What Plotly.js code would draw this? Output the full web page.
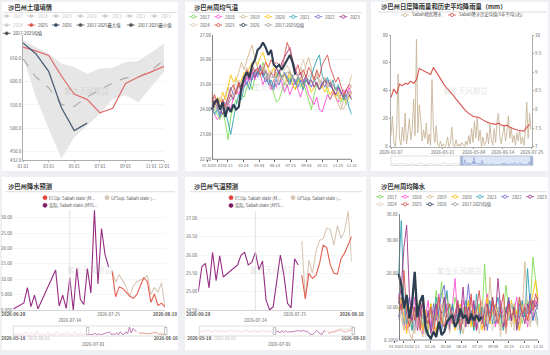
<!DOCTYPE html>
<html>
<head>
<meta charset="utf-8">
<script src="https://cdn.plot.ly/plotly-3.0.1.min.js"></script>
<style>
html, body { margin: 0; padding: 0; background: #eef0f4; }
#chart { width: 550px; height: 355px; }
</style>
</head>
<body>
<div id="chart"></div>
<script>
// ---------------- Soil moisture (monthly) ----------------
const soilMonths = ['01 01','02 01','03 01','04 01','05 01','06 01','07 01','08 01','09 01','10 01','11 01','12 01'];
const soilMax  = [689, 674, 660, 639, 631, 617, 628, 630, 642, 644, 663, 681];
const soilMin  = [654, 567, 499, 436, 481, 506, 531, 563, 571, 556, 588, 621];
const soilMean = [649, 610, 587, 551, 547, 567, 583, 597, 608, 610, 624, 646];
const soil2025 = [674, 666, 656, 612, 573, 562, 533, 543, 596, 610, 621, 633];
const soil2026 = [683, 660, 622, 544, 495, 511];
const soilTickText = ['01 01','03 01','05 01','07 01','09 01','11 01','12 01'];
const soilTickIdx  = [0, 2, 4, 6, 8, 10, 11];
const soilYTicks   = [432, 450, 500, 550, 600, 650];

// ---------------- Weekly mean temperature (°C) ----------------
const tempW2017 = [24.3,24.0,23.8,23.6,23.9,23.5,22.8,23.7,24.1,24.4,24.2,24.6,24.5,24.9,25.1,24.8,25.3,25.6,25.4,25.9,25.5,25.2,25.0,24.6,24.3,24.4,24.8,25.1,24.9,25.3,25.0,24.8,25.2,24.9,25.1,24.7,24.3,24.0,24.6,25.0,24.8,24.9,25.2,24.7,24.4,24.6,24.9,24.5,24.3,24.5,24.2,24.6,24.4];
const tempW2018 = [24.2,23.8,23.6,23.7,24.1,23.9,24.3,24.0,24.5,24.8,24.6,25.0,24.9,25.3,25.1,25.5,25.2,25.6,25.4,25.0,25.3,25.1,24.8,25.2,24.9,25.4,25.1,24.7,25.0,24.6,24.9,25.2,24.8,24.5,24.9,25.0,24.6,24.4,24.2,24.5,24.0,23.9,24.3,24.6,24.4,24.7,24.5,24.3,24.6,24.8,24.5,24.9,24.6];
const tempW2019 = [24.6,24.3,24.0,24.4,24.2,24.6,24.9,24.5,24.8,25.2,25.5,25.9,25.6,26.0,26.3,26.6,26.0,25.7,25.3,25.6,25.2,25.5,24.9,25.2,25.5,25.1,25.4,25.0,25.3,25.6,25.2,25.0,25.4,25.7,25.3,25.8,26.1,25.6,25.2,25.5,25.1,24.9,25.3,25.0,25.2,24.8,24.5,24.2,24.0,24.4,24.8,25.0,25.4];
const tempW2020 = [24.4,24.1,24.5,24.3,24.7,24.4,24.9,25.4,25.1,25.3,24.9,25.2,25.5,25.4,25.7,25.9,26.0,25.8,26.1,26.3,25.9,25.6,25.4,25.7,25.3,25.6,25.2,25.4,25.1,25.5,25.0,24.8,25.1,25.3,24.9,25.2,25.0,24.7,24.9,25.1,24.8,25.0,24.7,24.9,24.6,24.8,24.5,24.7,24.4,24.6,24.3,24.5,24.7];
const tempW2021 = [24.1,23.8,24.0,23.7,24.2,23.9,23.5,23.0,23.6,24.2,24.6,24.4,24.9,25.1,24.8,25.3,25.6,25.4,25.7,25.3,25.5,25.0,25.2,24.9,25.3,25.6,25.2,25.5,25.3,25.1,25.4,25.0,25.3,25.1,24.8,25.2,25.0,25.4,25.7,26.0,26.2,25.4,25.1,25.3,24.9,25.2,24.8,25.0,24.7,24.4,24.6,24.1,23.8];
const tempW2022 = [24.0,24.3,24.1,23.8,24.4,24.2,24.5,24.9,24.6,24.8,25.1,24.9,25.3,25.0,25.4,25.2,25.5,25.3,25.6,25.4,25.1,25.3,25.0,24.8,25.2,25.0,25.3,25.5,25.2,25.0,25.3,25.1,24.9,25.2,25.0,25.3,25.1,24.9,25.2,25.0,24.8,25.1,24.9,25.2,25.0,24.8,24.6,24.9,24.7,24.5,24.4,24.6,24.5];
const tempW2023 = [24.5,24.2,24.4,24.0,23.8,24.1,24.3,24.6,24.4,24.8,25.0,24.7,25.1,25.4,25.2,25.6,25.3,25.5,25.8,25.4,25.6,25.2,25.5,25.3,25.7,25.4,25.9,26.1,26.3,26.5,26.0,25.6,25.3,25.5,25.1,25.4,25.0,25.2,24.9,25.1,24.8,25.0,25.2,24.9,25.1,24.8,24.6,24.9,24.7,24.5,24.8,24.6,24.4];
const tempW2024 = [24.7,24.4,24.2,24.5,24.3,24.0,24.4,24.7,24.5,24.9,25.2,25.0,25.4,25.7,25.3,25.6,26.0,25.7,25.4,25.8,25.5,25.2,25.6,25.3,25.0,25.4,25.2,25.6,25.8,25.5,25.2,25.5,25.3,25.7,26.0,25.6,25.3,25.5,25.1,25.4,25.0,25.3,25.1,24.9,25.2,25.0,24.8,24.6,24.2,24.0,24.3,24.7,25.0];
const tempW2025 = [24.3,24.6,24.2,24.0,24.4,24.1,24.5,24.8,25.0,24.6,25.1,24.8,25.3,25.6,25.4,25.8,25.5,25.7,25.4,25.6,25.9,25.7,26.0,25.8,25.9,25.8,25.6,26.2,26.7,26.4,25.9,25.5,25.8,25.4,25.6,25.3,25.7,25.5,25.2,25.6,25.3,25.8,26.0,26.2,25.7,25.4,25.1,25.3,24.9,24.6,24.8,25.0,24.9];
const tempW2026 = [24.0,24.3,24.4,24.0,24.3,23.7,24.1,23.9,24.2,24.0,24.1,24.9,25.3,25.5,25.3,25.8,26.0,26.4,26.5,26.7,26.5,26.2,26.4,25.8,25.7,25.8,25.6,25.8,26.0,26.2,25.9,25.4];
const tempWMean = [24.3,24.1,24.0,23.9,24.1,24.0,24.2,24.4,24.5,24.7,24.9,25.0,25.2,25.4,25.5,25.6,25.6,25.6,25.6,25.6,25.5,25.4,25.3,25.3,25.3,25.4,25.3,25.4,25.5,25.5,25.3,25.2,25.2,25.3,25.2,25.3,25.2,25.1,25.1,25.3,25.2,25.1,25.2,25.1,25.0,25.0,24.8,24.8,24.6,24.6,24.6,24.7,24.7];

// ---------------- Weekly mean rainfall (mm) ----------------
const rainW2017 = [12,9,5,14,7,3,10,6,12,4,8,2,11,6,15,9,17.6,8,5,11,7,13,9,4,10,6,12,8,3,9,11,6,23,9,5,12,7,10,4,8,16.6,9,6,11,8,13,5,9,12,10,25,18,11];
const rainW2018 = [14,8,11,3,9,6,13,5,10,2,7,12,4,9,6,14,3,8,11,5,10,18.6,7,4,12,9,6,13,8,3,10,5,9,14,6,11,4,8,12,7,3,10,6,9,13,5,8,11,4,9,7,12,10];
const rainW2019 = [10,6,3,8,2,0.5,5,9,4,1,7,3,11,6,2,9,5,12,7,3,8,4,10,6,2,7,11,5,9,3,8,12,6,4,19,8,5,10,3,7,2,9,4,11,6,3,8,23.6,9,5,12,6,4];
const rainW2020 = [9,13,7,2,10,5,8,12,6,3,9,4,11,7,2,8,5,10,14,6,9,3,7,11,5,8,12,4,9,6,10,3,7,13,5,9,11,6,8,4,10,7,12,5,9,3,11,8,6,10,13,18,12];
const rainW2021 = [20,36,12,5,9,3,7,11,4,8,2,6,10,4,13,7,3,9,15,6,11,4,8,2,7,12,5,9,3,14,6,10,4,8,12,5,9,13,7,3,10,6,11,8,4,9,12,7,21.6,10,6,9,5];
const rainW2022 = [7,11,4,9,13,6,3,10,7,12,5,8,3,11,6,9,14,16.6,7,4,10,6,12,8,5,9,17,7,11,4,8,6,10,3,9,12,5,7,10,4,8,13,6,9,5,11,7,10,8,14,6,9,11];
const rainW2023 = [11,16,28,34.6,14,6,10,3,8,12,5,9,2,7,11,4,8,13,6,3,9,5,11,7,16,4,10,6,12,3,8,5,9,11,6,13,7,18.6,9,4,8,12,6,10,3,7,9,5,11,8,12,10,13];
const rainW2024 = [6,10,3,8,5,12,2,7,4,9,1,6,10,3,8,5,11,4,7,2,9,6,3,10,5,8,4,12,6,9,2,7,11,5,8,3,10,6,1,9,4,7,11,3,8,5,9,12,6,4,10,8,4];
const rainW2025 = [13,9,21,8,4,11,6,9,3,12,7,5,10,2,8,13,6,4,9,11,5,8,12,3,7,10,6,14,4,9,15,7,3,10,6,12,8,5,9,14,4,11,7,9,5,13,8,10,6,12,9,14,11];
const rainW2026 = [20,16.6,9.6,13.6,6.6,11,20.6,7,11.6,13.6,4,1.6,0.6,2.6,1,5.6,1.6,2.6,5.6,6.6,7.6,4,5.6,9.6,6.6,7.6,5,8,6,7.5,6,7];
const rainWMean = [11,13,11,10,9,7,8,8,7,7,6,7,7,7,8,7,8,9,8,6,8,8,8,6,8,8,8,9,7,7,8,7,9,8,8,9,7,9,8,7,8,9,8,8,7,8,8,10,9,9,11,11,9];

const weekTickDays = [-12, 14, 41, 82, 123, 164, 205, 246, 287, 328, 364];
const weekTickText = ['01 01','01 01','02 11','03 24','05 04','06 14','07 25','09 04','10 15','11 25','12 31'];

// ---------------- Daily rainfall 2026 and 5-year mean ----------------
const rainDailyStart = '2026-01-07';   // one value every 2 days
const rainDaily = [8,22,3,0,12,52,6,1,14,4, 24,2,10,20,5,12,34,8,77,10, 30,20,4,12,6,17,2,9,1,48,
  12,3,15,1,0,4,0,2,0,1, 7,0,3,14,1,0,5,0,2,0, 3,1,0,4,1,8,2,13,3,18,
  6,21,4,12,0,7,1,3,10,2, 16,5,1,13,3,18,24,7,2,9, 15,4,11,22,6,14,3,8,1,10,
  4,12,2,7,1,11,32,6,24,12];
const rainAvgStart = '2026-01-07';     // one value every 4 days
const rainAvg5y = [8.32,8.55,8.42,8.68,8.64,8.70,8.68,8.76,8.70,8.80,9.10,9.06,9.02,8.98,8.94,9.13,9.00,8.88,8.76,8.64,
  8.55,8.47,8.38,8.28,8.18,8.08,8.00,7.92,7.86,7.82,7.80,7.79,7.74,7.69,7.66,7.63,7.62,7.60,7.63,7.58,
  7.56,7.58,7.52,7.48,7.46,7.44,7.43,7.42,7.52,7.60];
const rainEarlyStart = '2025-06-23';   // weekly, before the viewed window
const rainEarly = [6,14,3,9,20,5,11,2,16,8,4,12,25,7,3,10,18,6,13,4,9,22,15,5,11,8,19,7,12];
const rainDailyTicks = ['2026-01-07','2026-03-21','2026-05-04','2026-06-14','2026-07-25'];

// ---------------- Forecasts ----------------
const fcRainActDates = ['2026-06-28','2026-06-29','2026-06-30','2026-07-01','2026-07-02','2026-07-03','2026-07-04','2026-07-05',
  '2026-07-10','2026-07-11','2026-07-12','2026-07-13','2026-07-14','2026-07-15','2026-07-16','2026-07-17',
  '2026-07-18','2026-07-19','2026-07-20','2026-07-21','2026-07-22','2026-07-23','2026-07-24','2026-07-25'];
const fcRainAct = [0.3,1.0,1.6,2.3,7.3,1.1,4.8,0.4,13.0,1.3,4.8,0.5,10.5,0.0,13.5,3.5,1.8,13.5,5.5,32.4,8.5,26.5,18.0,14.0];
const fcRainStart = '2026-07-26';
const fcRainEC  = [12.5,4.3,7.5,7.0,5.8,4.5,3.8,5.0,7.8,10.5,9.2,2.5,5.2,1.5,2.2,1.0];
const fcRainGFS = [13.0,9.0,11.5,9.5,7.5,4.2,7.8,9.2,9.8,10.2,11.3,5.0,7.2,5.8,8.8,0.8];
const fcRainHistStart = '2026-05-18';
const fcRainHist = [2,5,1,8,3,0,6,12,4,2,9,3,1,15,5,2,7,1,4,11,3,0,6,2,14,5,1,3,8,2,10,4,1,6,13,3,2,7,1,5,2];

const fcTempActDates = ['2026-06-28','2026-06-29','2026-06-30','2026-07-01','2026-07-02','2026-07-03','2026-07-04','2026-07-05',
  '2026-07-09','2026-07-10','2026-07-11','2026-07-12','2026-07-13','2026-07-14','2026-07-15','2026-07-16','2026-07-17',
  '2026-07-18','2026-07-19','2026-07-20','2026-07-21','2026-07-22','2026-07-23','2026-07-24','2026-07-25','2026-07-26'];
const fcTempAct = [25.0,25.68,25.77,25.1,26.07,25.3,25.98,25.4,25.73,26.0,26.07,25.73,25.8,26.07,25.6,25.84,24.77,24.5,24.59,25.32,26.0,25.45,24.68,24.56,25.9,25.73];
const fcTempStart = '2026-07-27';
const fcTempEC  = [25.45,24.8,25.5,25.36,25.45,25.77,26.27,26.2,25.73,25.5,25.48,25.9,26.05,26.3,26.5];
const fcTempGFS = [26.38,24.82,25.86,25.5,26.1,26.4,26.45,26.73,26.7,26.27,26.8,26.45,26.65,27.2,25.8];
const fcTempHistStart = '2026-05-18';
const fcTempHist = [25.8,25.6,26.0,25.7,25.9,26.1,25.8,25.5,25.9,26.2,25.7,25.6,26.0,25.8,25.5,25.9,25.7,26.1,25.8,25.6,25.9,26.0,25.7,25.5,25.8,26.1,25.9,25.6,25.8,25.7,26.0,25.8,25.5,25.9,25.7,26.1,25.8,25.6,25.9,25.7,25.4];
const fcTicks = ['2026-06-28','2026-07-14','2026-07-25','2026-08-10'];
const fcSliderTicks = ['2026-05-18','2026-06-01','2026-08-10'];
const fcSliderMid = '2026-07-01';

// ---------------- styling ----------------
const FONT = '"Noto Sans CJK SC", "Noto Sans", sans-serif';
const W = 550, H = 355;
const fx = v => v / W;
const fy = v => 1 - v / H;

const yearColor = {
  '2017': '#7fdc55', '2018': '#ff4fd2', '2019': '#d4b88e', '2020': '#ffc20e',
  '2021': '#2ea3b3', '2022': '#6b6bd1', '2023': '#a0338a', '2024': '#dccab6',
  '2025': '#d9534f', '2026': '#2c3e50', 'mean': '#9a9a9a'
};
const C_ACT = '#962d83', C_EC = '#e2604f', C_GFS = '#d8c6b6';

function datesFrom(start, n, step) {
  const t0 = Date.parse(start + 'T00:00:00Z');
  const out = [];
  for (let i = 0; i < n; i++) out.push(new Date(t0 + i * step * 86400000).toISOString().slice(0, 10));
  return out;
}
const weekX = arr => arr.map((_, i) => i * 7);

const shapes = [];
const annotations = [];
function rectPx(x0, y0, x1, y1, opt) {
  shapes.push(Object.assign({type: 'rect', xref: 'paper', yref: 'paper',
    x0: fx(x0), x1: fx(x1), y0: fy(y1), y1: fy(y0)}, opt));
}
function linePx(x0, y0, x1, y1, color, width) {
  shapes.push({type: 'line', xref: 'paper', yref: 'paper', x0: fx(x0), x1: fx(x1), y0: fy(y0), y1: fy(y1),
    line: {color: color, width: width}});
}
function circlePx(cx, cy, r, fill, stroke, sw) {
  shapes.push({type: 'circle', xref: 'paper', yref: 'paper', x0: fx(cx - r), x1: fx(cx + r),
    y0: fy(cy + r), y1: fy(cy - r), fillcolor: fill, line: {color: stroke, width: sw}});
}
function textPx(x, y, text, size, color, anchor) {
  annotations.push({xref: 'paper', yref: 'paper', x: fx(x), y: fy(y), text: text, showarrow: false,
    xanchor: anchor || 'left', yanchor: 'middle', borderpad: 0,
    font: {family: FONT, size: size, color: color}});
}
function legendItem(cx, cy, color, label, kind, textColor) {
  if (kind !== 'dot') linePx(cx - 4, cy, cx + 4, cy, color, 0.8);
  if (kind === 'open') circlePx(cx, cy, 1.6, '#ffffff', color, 0.8);
  else if (kind === 'filled') circlePx(cx, cy, 1.6, color, color, 0.5);
  else circlePx(cx, cy, 2.1, color, color, 0.5);
  textPx(kind === 'dot' ? cx + 3.3 : cx + 5.5, cy, label, 4.3, textColor || '#555');
}

// panel cards
const panels = [[2,2,178,171],[185,2,366,171],[371,2,548,171],[2,177,178,350],[185,177,366,350],[371,177,548,350]];
panels.forEach(p => rectPx(p[0], p[1], p[2], p[3], {fillcolor: '#ffffff', line: {width: 0}, layer: 'below'}));

// titles + underline
const titles = [
  ['沙巴州土壤墒情', 6.5, 7.3, 3, 177, 12.6],
  ['沙巴州周均气温', 193, 7.3, 190, 362, 12.6],
  ['沙巴州日度降雨量和历史平均降雨量（mm）', 380, 7.0, 378, 547, 12.0],
  ['沙巴州降水预测', 7, 186.7, 5, 175, 191.7],
  ['沙巴州气温预测', 193, 186.7, 190, 362, 191.7],
  ['沙巴州周均降水', 380, 186.7, 378, 547, 191.7]
];
titles.forEach(t => {
  textPx(t[1], t[2], '<b>' + t[0] + '</b>', 6.3, '#333');
  linePx(t[3], t[5], t[4], t[5], '#d4d4d4', 0.8);
});

// watermarks
[[87, 90], [268, 86], [466, 90], [90, 269], [273, 269], [460, 270]].forEach(p =>
  textPx(p[0], p[1], '紫金天风期货', 7.5, 'rgba(165,165,165,0.30)', 'center'));

// ---- legends ----
const disabledYears = ['2017','2018','2019','2020','2021','2022','2023'];
disabledYears.forEach((yr, k) => legendItem(6.7 + 24.6 * k, 16, '#cccccc', yr, 'filled', '#c4c4c4'));
legendItem(6.7, 25, '#cccccc', '2024', 'filled', '#c4c4c4');
legendItem(31.3, 25, yearColor['2025'], '2025', 'filled', '#444');
legendItem(55.9, 25, '#34495e', '2026', 'filled', '#444');
legendItem(80.5, 25, '#555555', '2017-2025最大值', 'filled', '#444');
legendItem(131, 25, '#555555', '2017-2025最小值', 'filled', '#444');
legendItem(6.7, 33.3, '#555555', '2017-2025均值', 'filled', '#444');

const legYears = ['2017','2018','2019','2020','2021','2022','2023','2024','2025','2026','mean'];
function weeklyLegend(x0, yRow1, yRow2) {
  legYears.forEach((yr, k) => {
    const row = k < 7 ? 0 : 1;
    const col = k < 7 ? k : k - 7;
    legendItem(x0 + 25 * col, row ? yRow2 : yRow1, yearColor[yr], yr === 'mean' ? '2017-2025均值' : yr, 'open');
  });
}
weeklyLegend(193.3, 16.7, 25);
weeklyLegend(380, 196.7, 204.3);

legendItem(405, 15, '#c8b69a', 'Sabah地区降水', 'open');
legendItem(452, 15, '#d9534f', 'Sabah降水历史均值(5年平均)(右)', 'open');

legendItem(45, 197.7, '#e0443a', 'ECOp. Sabah state (M...', 'dot');
legendItem(107, 197.7, '#d6c3b2', 'GFSop. Sabah state (...', 'dot');
legendItem(45, 205.3, '#7d1a65', '实际, Sabah state (MYS...', 'dot');
legendItem(231, 197.7, '#e0443a', 'ECOp. Sabah state (M...', 'dot');
legendItem(293, 197.7, '#d6c3b2', 'GFSop. Sabah state (...', 'dot');
legendItem(231, 205.5, '#7d1a65', '实际, Sabah state (MYS...', 'dot');

// ---- slider frames ----
// panel 3
rectPx(391, 156, 531.7, 165.5, {fillcolor: 'rgba(0,0,0,0)', line: {color: '#d2d2d2', width: 0.7}});
rectPx(461.5, 156, 531.7, 165.5, {fillcolor: 'rgba(150,178,228,0.33)', line: {color: '#9fb4da', width: 0.6}, layer: 'below'});
rectPx(460.3, 156.5, 462.7, 165, {fillcolor: '#a9bad8', line: {color: '#8ea3c8', width: 0.5}});
rectPx(530.5, 156.5, 532.9, 165, {fillcolor: '#a9bad8', line: {color: '#8ea3c8', width: 0.5}});
// panel 4
rectPx(13.3, 326, 165.7, 336, {fillcolor: 'rgba(0,0,0,0)', line: {color: '#d0d0d0', width: 0.7}});
rectPx(86.5, 327.5, 88.9, 334.5, {fillcolor: '#ffffff', line: {color: '#999', width: 0.6}});
rectPx(164.5, 327.5, 166.9, 334.5, {fillcolor: '#ffffff', line: {color: '#999', width: 0.6}});
// panel 5
rectPx(199.3, 326, 353.3, 336, {fillcolor: 'rgba(0,0,0,0)', line: {color: '#d0d0d0', width: 0.7}});
rectPx(273.3, 327.5, 275.7, 334.5, {fillcolor: '#ffffff', line: {color: '#999', width: 0.6}});
rectPx(352.1, 327.5, 354.5, 334.5, {fillcolor: '#ffffff', line: {color: '#999', width: 0.6}});

// middle date labels of the forecast sliders sit on a second row
['x6', 'x8'].forEach(xa => annotations.push({xref: xa, yref: 'paper', x: fcSliderMid, y: fy(344.3),
  text: fcSliderMid, showarrow: false, xanchor: 'center', yanchor: 'middle', borderpad: 0,
  font: {family: FONT, size: 4.4, color: '#555'}}));

// "today" markers in the forecast panels
shapes.push({type: 'line', xref: 'x5', yref: 'y6 domain', x0: '2026-07-14', x1: '2026-07-14', y0: 0, y1: 1,
  line: {color: '#dcdcdc', width: 0.8}});
shapes.push({type: 'line', xref: 'x7', yref: 'y8 domain', x0: '2026-07-14', x1: '2026-07-14', y0: 0, y1: 1,
  line: {color: '#dcdcdc', width: 0.8}});

// baselines of the weekly panels start at the first week
shapes.push({type: 'line', xref: 'x2', yref: 'y2 domain', x0: 0, x1: 364, y0: 0, y1: 0, line: {color: '#666', width: 0.8}});
shapes.push({type: 'line', xref: 'x9', yref: 'y10 domain', x0: 0, x1: 364, y0: 0, y1: 0, line: {color: '#666', width: 0.8}});

// ---------------- traces ----------------
const traces = [];
const line = (x, y, xa, ya, color, width, extra) => traces.push(Object.assign({
  x: x, y: y, xaxis: xa, yaxis: ya, type: 'scatter', mode: 'lines',
  line: {color: color, width: width}, hoverinfo: 'skip', showlegend: false}, extra || {}));

// panel 1
line(soilMonths, soilMin, 'x', 'y', '#e6e6e6', 0);
line(soilMonths, soilMax, 'x', 'y', '#e6e6e6', 0, {fill: 'tonexty', fillcolor: '#e6e6e6'});
line(soilMonths, soilMean, 'x', 'y', '#a8a8a8', 1.1, {line: {color: '#a8a8a8', width: 1.1, dash: 'dash'}});
line(soilMonths, soil2025, 'x', 'y', '#e06a6a', 1.2);
line(soilMonths.slice(0, soil2026.length), soil2026, 'x', 'y', '#4b5e74', 1.3);

// panel 2 + panel 6
const tempSeries = [['2017', tempW2017], ['2018', tempW2018], ['2019', tempW2019], ['2020', tempW2020],
  ['2021', tempW2021], ['2022', tempW2022], ['2023', tempW2023], ['2024', tempW2024], ['mean', tempWMean],
  ['2025', tempW2025], ['2026', tempW2026]];
tempSeries.forEach(s => line(weekX(s[1]), s[1], 'x2', 'y2', yearColor[s[0]], s[0] === '2026' ? 2.1 : 0.9));
const rainSeries = [['2017', rainW2017], ['2018', rainW2018], ['2019', rainW2019], ['2020', rainW2020],
  ['2021', rainW2021], ['2022', rainW2022], ['2023', rainW2023], ['2024', rainW2024], ['mean', rainWMean],
  ['2025', rainW2025], ['2026', rainW2026]];
rainSeries.forEach(s => line(weekX(s[1]), s[1], 'x9', 'y10', yearColor[s[0]], s[0] === '2026' ? 2.3 : 0.9));

// panel 3
const rainDailyX = datesFrom(rainDailyStart, rainDaily.length, 2);
line(rainDailyX, rainDaily, 'x3', 'y3', '#c8b69a', 0.9);
line(datesFrom(rainAvgStart, rainAvg5y.length, 4), rainAvg5y, 'x3', 'y4', '#d9534f', 1.1);
line(datesFrom(rainEarlyStart, rainEarly.length, 7), rainEarly, 'x4', 'y5', '#cfcfcf', 0.6);
line(rainDailyX, rainDaily, 'x4', 'y5', '#7f9bcf', 0.6);

// panel 4
line(fcRainActDates, fcRainAct, 'x5', 'y6', C_ACT, 1.1);
line(datesFrom(fcRainStart, fcRainGFS.length, 1), fcRainGFS, 'x5', 'y6', C_GFS, 1.1);
line(datesFrom(fcRainStart, fcRainEC.length, 1), fcRainEC, 'x5', 'y6', C_EC, 1.1);
line(datesFrom(fcRainHistStart, fcRainHist.length, 1), fcRainHist, 'x6', 'y7', '#efc6e2', 0.7);
line(fcRainActDates, fcRainAct, 'x6', 'y7', '#a8479a', 0.7);
line(datesFrom(fcRainStart, fcRainGFS.length, 1), fcRainGFS, 'x6', 'y7', '#e2d5c8', 0.7);
line(datesFrom(fcRainStart, fcRainEC.length, 1), fcRainEC, 'x6', 'y7', '#ea8d7e', 0.7);

// panel 5
line(fcTempActDates, fcTempAct, 'x7', 'y8', C_ACT, 1.1);
line(datesFrom(fcTempStart, fcTempGFS.length, 1), fcTempGFS, 'x7', 'y8', C_GFS, 1.1);
line(datesFrom(fcTempStart, fcTempEC.length, 1), fcTempEC, 'x7', 'y8', C_EC, 1.1);
line(datesFrom(fcTempHistStart, fcTempHist.length, 1), fcTempHist, 'x8', 'y9', '#efc6e2', 0.7);
line(fcTempActDates, fcTempAct, 'x8', 'y9', '#a8479a', 0.7);
line(datesFrom(fcTempStart, fcTempGFS.length, 1), fcTempGFS, 'x8', 'y9', '#e2d5c8', 0.7);
line(datesFrom(fcTempStart, fcTempEC.length, 1), fcTempEC, 'x8', 'y9', '#ea8d7e', 0.7);

// ---------------- axes ----------------
const tickFont = {family: FONT, size: 4.5, color: '#666'};
const weekTickFont = {family: FONT, size: 4.2, color: '#666'};
function ax(extra) {
  return Object.assign({showgrid: false, zeroline: false, showline: true, linecolor: '#999', linewidth: 0.8,
    ticks: '', tickangle: 0, tickfont: tickFont, fixedrange: true, automargin: false}, extra);
}
const hidden = extra => Object.assign({visible: false, fixedrange: true}, extra);
const bold = s => '<b>' + s + '</b>';
const fcTickText = [bold('2026-06-28'), '<br>2026-07-14', '2026-07-25', bold('2026-08-10')];
const fcSliderText = [bold('2026-05-18'), '<span style="color:#bbbbbb">2026-06-01</span>', bold('2026-08-10')];

const layout = {
  width: W, height: H, margin: {l: 0, r: 0, t: 0, b: 0, pad: 0},
  paper_bgcolor: '#eef0f4', plot_bgcolor: 'rgba(0,0,0,0)',
  showlegend: false, hovermode: false, font: {family: FONT, size: 5, color: '#666'},
  shapes: shapes, annotations: annotations,

  xaxis: ax({domain: [fx(23), fx(164)], anchor: 'y', type: 'category', range: [0, 11],
    tickvals: soilTickIdx, ticktext: soilTickText, ticks: 'outside', ticklen: 1.5, tickcolor: '#999'}),
  yaxis: ax({domain: [fy(160), fy(35)], anchor: 'x', range: [432, 700], tickvals: soilYTicks,
    ticktext: soilYTicks.map(v => v.toFixed(1)), showgrid: true, gridcolor: '#eeeeee', gridwidth: 0.6}),

  xaxis2: ax({domain: [fx(207.3), fx(351.7)], anchor: 'y2', range: [-12, 364], tickvals: weekTickDays,
    ticktext: weekTickText, showline: false, ticks: 'outside', ticklen: 1.5, tickcolor: '#666', tickfont: weekTickFont}),
  yaxis2: ax({domain: [fy(159.3), fy(35)], anchor: 'free', position: fx(211.9), range: [22, 27],
    tickvals: [22, 23, 24, 25, 26, 27], ticktext: ['22.00','23.00','24.00','25.00','26.00','27.00'], linecolor: '#666',
    showgrid: true, gridcolor: '#e8e8e8', gridwidth: 0.6}),

  xaxis3: ax({domain: [fx(391), fx(531.7)], anchor: 'y3', type: 'date', range: ['2026-01-07', '2026-07-25'],
    tickvals: rainDailyTicks, ticktext: rainDailyTicks, ticks: 'outside', ticklen: 1.5, tickcolor: '#999'}),
  yaxis3: ax({domain: [fy(146.7), fy(35)], anchor: 'x3', range: [0, 80], tickvals: [0, 20, 40, 60, 80],
    ticktext: ['0', '20', '40', '60', '80'], ticks: 'outside', ticklen: 1.5, tickcolor: '#999'}),
  yaxis4: ax({overlaying: 'y3', side: 'right', anchor: 'x3', range: [7, 10],
    tickvals: [7, 7.5, 8, 8.5, 9, 9.5, 10], ticktext: ['7', '7.5', '8', '8.5', '9', '9.5', '10'],
    ticks: 'outside', ticklen: 1.5, tickcolor: '#999'}),
  xaxis4: hidden({domain: [fx(391), fx(531.7)], anchor: 'y5', type: 'date', range: ['2025-06-22', '2026-07-25']}),
  yaxis5: hidden({domain: [fy(165), fy(157)], anchor: 'x4', range: [0, 80]}),

  xaxis5: ax({domain: [fx(13.3), fx(165)], anchor: 'y6', type: 'date', range: ['2026-06-28', '2026-08-10'],
    tickvals: fcTicks, ticktext: fcTickText, linecolor: '#cccccc', tickfont: {family: FONT, size: 4.4, color: '#555'}}),
  yaxis6: ax({domain: [fy(310), fy(210)], anchor: 'x5', range: [0, 32.5], showline: false,
    tickvals: [0, 5, 10, 15, 20, 25, 30], ticktext: ['0.000','5.000','10.00','15.00','20.00','25.00','30.00'],
    showgrid: true, gridcolor: '#f0f0f0', gridwidth: 0.6}),
  xaxis6: ax({domain: [fx(13.3), fx(165.7)], anchor: 'y7', type: 'date', range: ['2026-05-18', '2026-08-10'],
    showline: false, tickvals: fcSliderTicks, ticktext: fcSliderText, tickfont: {family: FONT, size: 4.4, color: '#555'}}),
  yaxis7: hidden({domain: [fy(335), fy(327)], anchor: 'x6', range: [0, 33]}),

  xaxis7: ax({domain: [fx(198.3), fx(351.7)], anchor: 'y8', type: 'date', range: ['2026-06-28', '2026-08-10'],
    tickvals: fcTicks, ticktext: fcTickText, linecolor: '#cccccc', tickfont: {family: FONT, size: 4.4, color: '#555'}}),
  yaxis8: ax({domain: [fy(310), fy(211)], anchor: 'x7', range: [24.5, 27.2], showline: false,
    tickvals: [24.5, 25, 25.5, 26, 26.5, 27], ticktext: ['24.50','25.00','25.50','26.00','26.50','27.00'],
    showgrid: true, gridcolor: '#f0f0f0', gridwidth: 0.6}),
  xaxis8: ax({domain: [fx(199.3), fx(353.3)], anchor: 'y9', type: 'date', range: ['2026-05-18', '2026-08-10'],
    showline: false, tickvals: fcSliderTicks, ticktext: fcSliderText, tickfont: {family: FONT, size: 4.4, color: '#555'}}),
  yaxis9: hidden({domain: [fy(335), fy(327)], anchor: 'x8', range: [24.3, 27.4]}),

  xaxis9: ax({domain: [fx(394), fx(538.3)], anchor: 'y10', range: [-12, 364], tickvals: weekTickDays,
    ticktext: weekTickText, showline: false, ticks: 'outside', ticklen: 1.5, tickcolor: '#666', tickfont: weekTickFont}),
  yaxis10: ax({domain: [fy(340), fy(214)], anchor: 'free', position: fx(398.6), range: [0.105, 38],
    tickvals: [0.105, 10, 20, 30, 38], ticktext: ['0.1050','10.00','20.00','30.00','38.00'], linecolor: '#666',
    showgrid: true, gridcolor: '#efefef', gridwidth: 0.6})
};

Plotly.newPlot('chart', traces, layout, {staticPlot: true, displayModeBar: false});
</script>
</body>
</html>
